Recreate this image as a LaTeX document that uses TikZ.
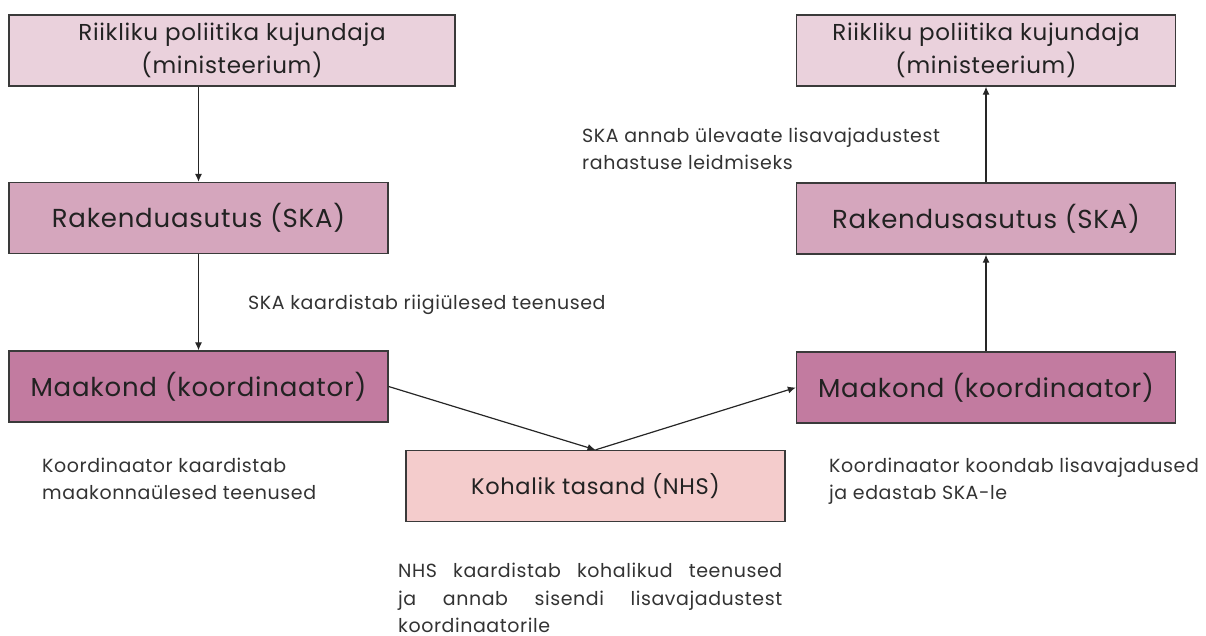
\documentclass[tikz,border=0pt]{standalone}
\usepackage{fontspec}
\setmainfont{Poppins}[LetterSpace=3]
\usetikzlibrary{arrows.meta}
\definecolor{topc}{HTML}{EAD1DC}
\definecolor{midc}{HTML}{D5A6BD}
\definecolor{lowc}{HTML}{C27BA0}
\definecolor{locc}{HTML}{F4CCCC}
\definecolor{edge}{HTML}{3A3A3A}
\definecolor{txt}{HTML}{222222}
\definecolor{lbl}{HTML}{333333}
\begin{document}
\begin{tikzpicture}[x=1pt,y=-1pt,
  box/.style={draw=edge, line width=1.3pt, minimum width=379pt, minimum height=71pt, inner sep=0pt, align=center, text=txt},
  topbox/.style={box, fill=topc, font=\fontsize{23}{33}\selectfont},
  midbox/.style={box, fill=midc, font=\fontsize{26}{33}\selectfont},
  lowbox/.style={box, fill=lowc, font=\fontsize{26}{33}\selectfont},
  locbox/.style={box, fill=locc, font=\fontsize{22.5}{33}\selectfont},
  lbltext/.style={anchor=north west, inner sep=0pt, align=left, text=lbl, font=\fontsize{19}{27.5}\selectfont},
  conn/.style={draw=black!85, line width=1.2pt, -{Latex[length=8pt,width=7pt]}}]
\useasboundingbox (0,0) rectangle (1206,635);
% left column
\node[topbox, minimum width=446pt] (lt) at (232,50.5) {Riikliku poliitika kujundaja\\(ministeerium)};
\node[midbox] (lm) at (198.5,218) {Rakenduasutus (SKA)};
\node[lowbox] (ll) at (198.5,386.5) {Maakond (koordinaator)};
% right column
\node[topbox] (rt) at (986,50.5) {Riikliku poliitika kujundaja\\(ministeerium)};
\node[midbox] (rm) at (986,218.5) {Rakendusasutus (SKA)};
\node[lowbox] (rl) at (986,387.5) {Maakond (koordinaator)};
% local
\node[locbox] (lo) at (595.5,486) {Kohalik tasand (NHS)};
% connectors
\draw[conn] (lm.north |- lt.south) -- (lm.north);
\draw[conn] (lm.south) -- (ll.north);
\draw[conn] (ll.east) -- (lo.north);
\draw[conn] (lo.north) -- (rl.west);
\draw[conn] (rl.north) -- (rm.south);
\draw[conn] (rm.north) -- (rt.south);
% labels
\node[lbltext] (t1) at (248,294.5) {SKA kaardistab riigiülesed teenused};
\node[lbltext] (t2) at (582,127.5) {SKA annab ülevaate lisavajadustest\\rahastuse leidmiseks};
\node[lbltext] (t3) at (42,457.5) {Koordinaator kaardistab\\maakonnaülesed teenused};
\node[lbltext] (t4) at (829,457.5) {Koordinaator koondab lisavajadused\\ja edastab SKA-le};
\node[lbltext, text width=384pt, align=justify] (t5) at (398,563) {NHS kaardistab kohalikud teenused\linebreak ja annab sisendi lisavajadustest\linebreak koordinaatorile};
\end{tikzpicture}
\end{document}
